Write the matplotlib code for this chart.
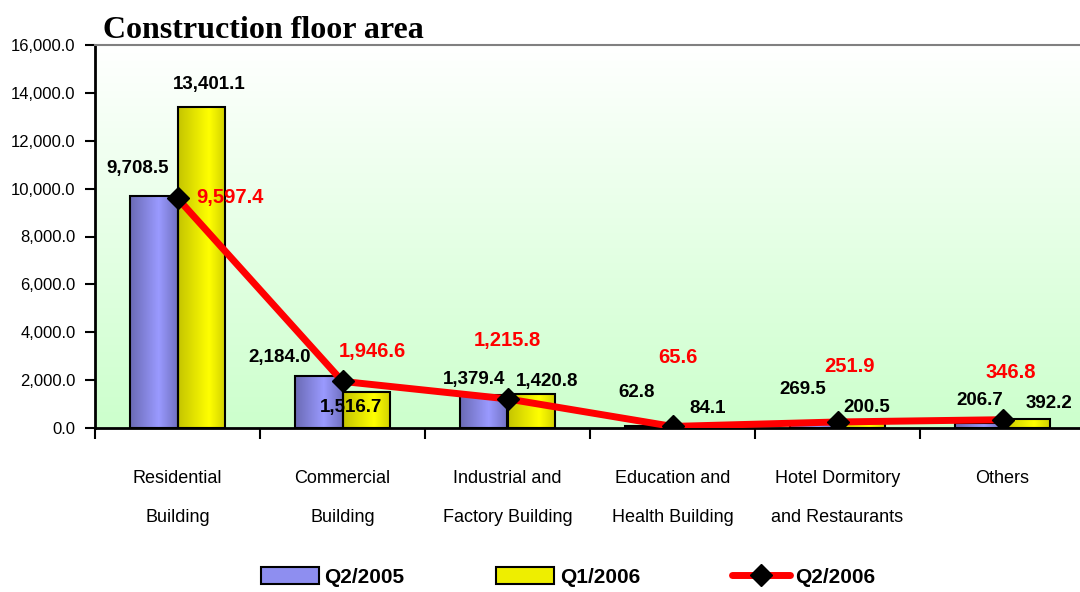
import numpy as np
import matplotlib.pyplot as plt
from matplotlib.colors import LinearSegmentedColormap
from matplotlib.patches import Patch
from matplotlib.lines import Line2D
from matplotlib.ticker import FuncFormatter, FixedLocator

plt.rcParams['font.family'] = ['Liberation Sans', 'DejaVu Sans']

categories = ["Residential\nBuilding", "Commercial\nBuilding", "Industrial and\nFactory Building",
              "Education and\nHealth Building", "Hotel Dormitory\nand Restaurants", "Others"]
q2_2005 = [9708.5, 2184.0, 1379.4, 62.8, 269.5, 206.7]
q1_2006 = [13401.1, 1516.7, 1420.8, 84.1, 200.5, 392.2]
q2_2006 = [9597.4, 1946.6, 1215.8, 65.6, 251.9, 346.8]

# label offsets (x in category units, y in data units)
off_q2_2005 = [(-0.24, 1150), (-0.38, 780), (-0.2, 630), (-0.22, 1400), (-0.21, 1320), (-0.14, 960)]
off_q1_2006 = [(0.19, 930), (0.05, -640), (0.24, 540), (0.21, 750), (0.18, 640), (0.28, 650)]
off_q2_2006 = [(0.32, 50), (0.18, 1230), (0.0, 2420), (0.03, 2860), (0.07, 2300), (0.05, 1990)]

fig = plt.figure(figsize=(10.8, 5.92), dpi=100)
ax = fig.add_axes([95/1080, 164/592, 990/1080, 383/592])

x = np.arange(len(categories))
w = 0.285
ax.set_xlim(-0.5, len(categories) - 0.5)
ax.set_ylim(0, 16000)

# background gradient: white top -> light green bottom
bg = np.linspace(0, 1, 256).reshape(-1, 1)
bg_cmap = LinearSegmentedColormap.from_list("bg", ["#ccffcc", "#ffffff"])
ax.imshow(bg, extent=[0, 1, 0, 1], transform=ax.transAxes, origin="lower",
          cmap=bg_cmap, aspect="auto", zorder=0)

blue_cmap = LinearSegmentedColormap.from_list("b", [(0, "#6a6ab4"), (0.6, "#9a9aff"), (1, "#7070c0")])
yel_cmap = LinearSegmentedColormap.from_list("y", [(0, "#c4c400"), (0.65, "#ffff00"), (1, "#d0d000")])
hgrad = np.linspace(0, 1, 256).reshape(1, -1)

b1 = ax.bar(x - w/2, q2_2005, w, facecolor="none", edgecolor="black", linewidth=1.5, zorder=3)
b2 = ax.bar(x + w/2, q1_2006, w, facecolor="none", edgecolor="black", linewidth=1.5, zorder=3)
for bars, cm in [(b1, blue_cmap), (b2, yel_cmap)]:
    for r in bars:
        im = ax.imshow(hgrad, extent=[r.get_x(), r.get_x() + r.get_width(), 0, r.get_height()],
                       cmap=cm, aspect="auto", zorder=2)
        im.set_clip_path(r)

ax.plot(x, q2_2006, color="red", linewidth=5, marker="D", markersize=11,
        markerfacecolor="black", markeredgecolor="black", zorder=4, solid_capstyle="round")

ax.set_xlim(-0.5, len(categories) - 0.5)
ax.set_ylim(0, 16000)

for i in range(len(categories)):
    dx, dy = off_q2_2005[i]
    ax.text(i + dx, q2_2005[i] + dy, f"{q2_2005[i]:,.1f}", ha="center", va="center",
            fontsize=13.5, fontweight="bold", color="black", zorder=5)
    dx, dy = off_q1_2006[i]
    ax.text(i + dx, q1_2006[i] + dy, f"{q1_2006[i]:,.1f}", ha="center", va="center",
            fontsize=13.5, fontweight="bold", color="black", zorder=5)
    dx, dy = off_q2_2006[i]
    ax.text(i + dx, q2_2006[i] + dy, f"{q2_2006[i]:,.1f}", ha="center", va="center",
            fontsize=14.5, fontweight="bold", color="red", zorder=5)

ax.yaxis.set_major_locator(FixedLocator(np.arange(0, 16001, 2000)))
ax.yaxis.set_major_formatter(FuncFormatter(lambda v, p: f"{v:,.1f}"))
ax.tick_params(axis="y", direction="out", length=7, width=1.5, labelsize=12, pad=7)

ax.set_xticks(np.arange(-0.5, len(categories)), minor=False)
ax.set_xticklabels([])
ax.set_xticks(x, minor=True)
ax.set_xticklabels(categories, minor=True, fontsize=13, linespacing=2.7)
ax.tick_params(axis="x", which="major", direction="out", length=8, width=1.5)
ax.tick_params(axis="x", which="minor", length=0, pad=30)

for s in ["left", "bottom"]:
    ax.spines[s].set_linewidth(2)
    ax.spines[s].set_color("black")
ax.spines["top"].set_color("#808080")
ax.spines["top"].set_linewidth(1.5)
ax.spines["right"].set_visible(False)

fig.text(103/1080, 1 - 38/592, "Construction floor area", fontsize=23, fontweight="bold",
         family="Liberation Serif", ha="left", va="baseline")

handles = [Patch(facecolor="#8e8ef0", edgecolor="black", linewidth=1.5),
           Patch(facecolor="#eeee00", edgecolor="black", linewidth=1.5),
           Line2D([], [], color="red", linewidth=5, marker="D", markersize=11,
                  markerfacecolor="black", markeredgecolor="black", solid_capstyle="round")]
leg = fig.legend(handles, ["Q2/2005", "Q1/2006", "Q2/2006"], loc="center", ncol=3,
                 bbox_to_anchor=(568/1080, 1 - 577/592), frameon=False,
                 prop={"weight": "bold", "size": 15}, handlelength=2.8, handleheight=0.82,
                 columnspacing=4.4, handletextpad=0.25, borderaxespad=0, borderpad=0)

fig.savefig("out.png", dpi=100)
